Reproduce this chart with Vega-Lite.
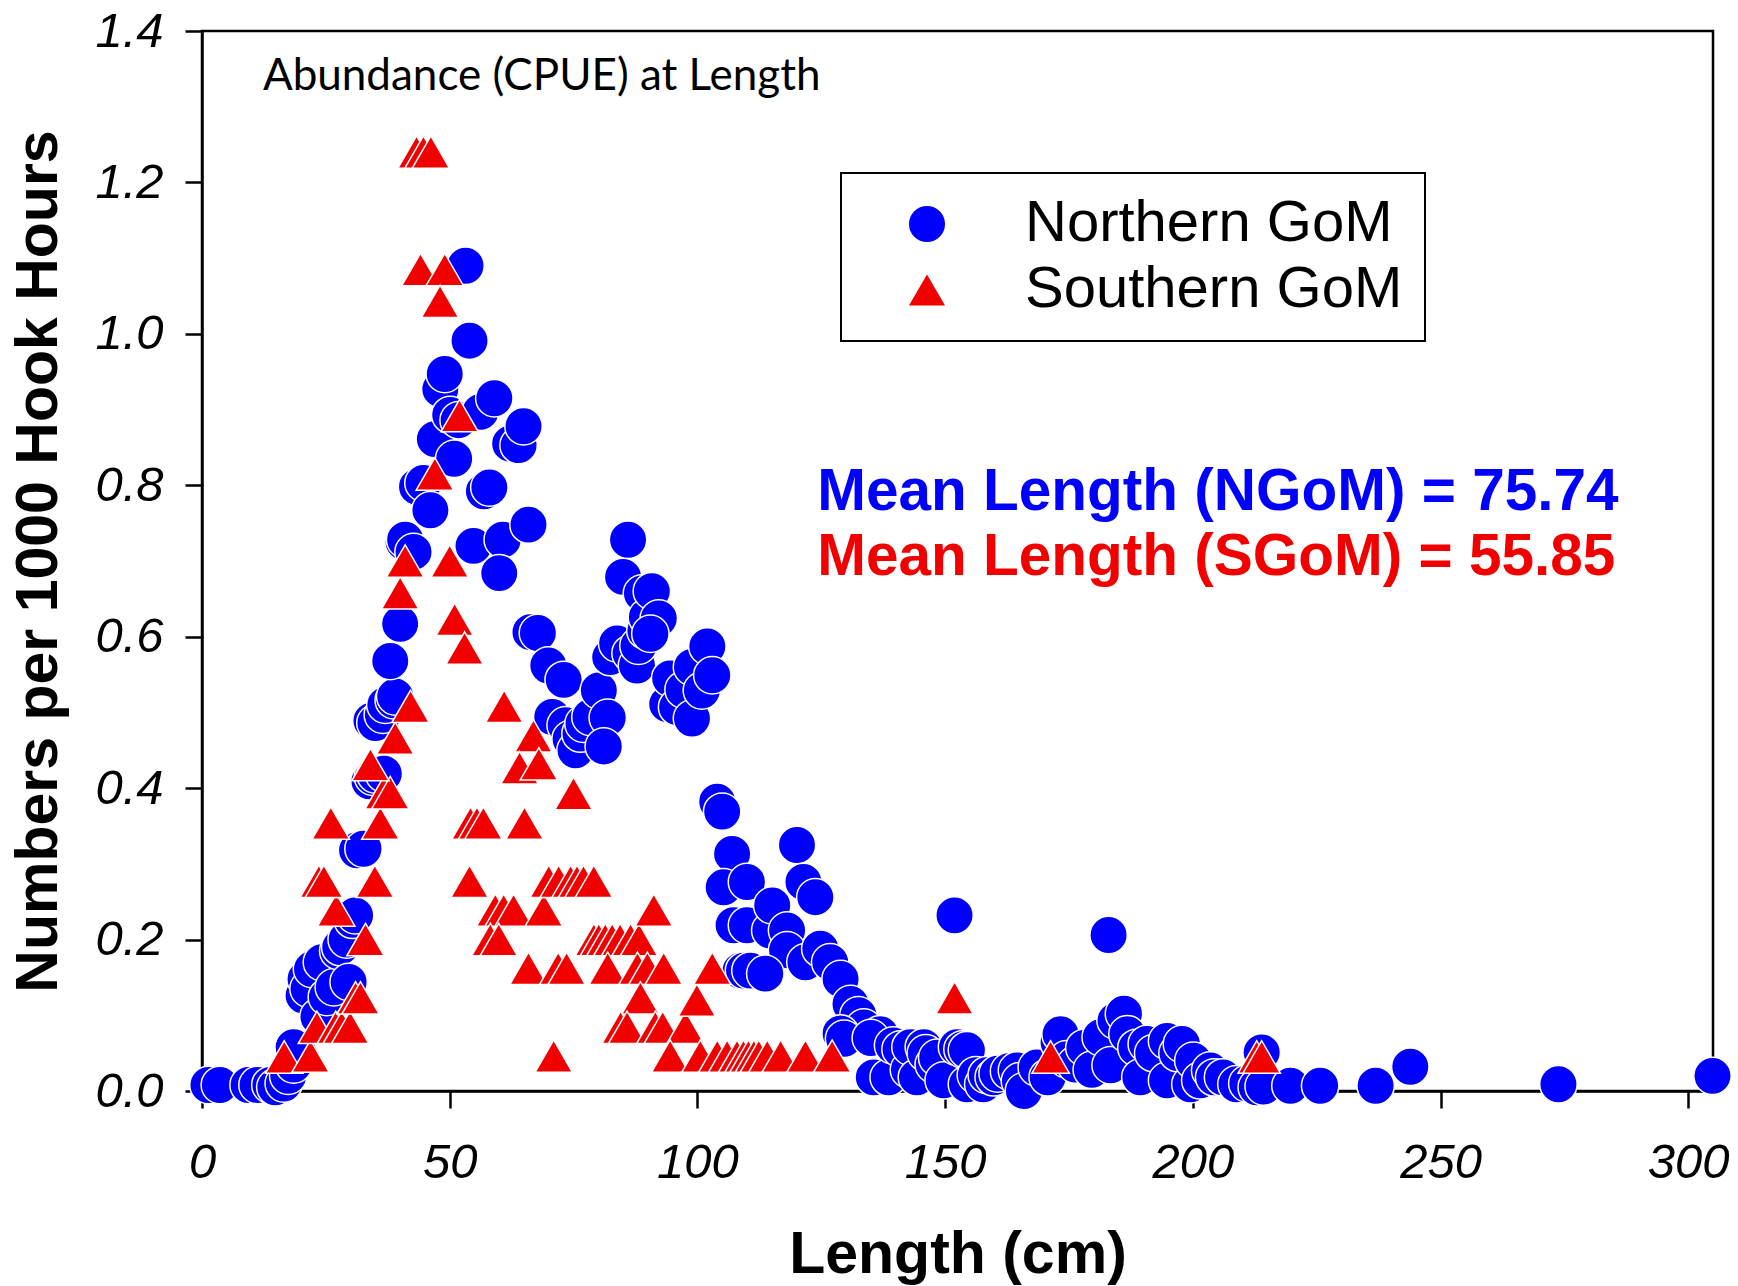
{
  "$schema": "https://vega.github.io/schema/vega-lite/v6.json",
  "width": 1511,
  "height": 1060,
  "autosize": "none",
  "padding": {"left": 202, "top": 31, "right": 25, "bottom": 195},
  "background": "white",
  "config": {
    "view": {"stroke": "black", "strokeWidth": 2.5},
    "axis": {
      "grid": false,
      "domainColor": "black",
      "domainWidth": 2.5,
      "tickColor": "black",
      "tickWidth": 2.5,
      "tickSize": 17,
      "labelFont": "Liberation Sans",
      "labelFontStyle": "italic",
      "labelFontSize": 49,
      "labelColor": "black",
      "labelOverlap": false,
      "labelFlush": false,
      "titleFont": "Liberation Sans",
      "titleFontWeight": "bold",
      "titleFontSize": 59,
      "titleColor": "black"
    },
    "legend": {"strokeWidth": 2}
  },
  "datasets": {
    "pts": [
      {"region": "Northern GoM", "len": 1.3, "cpue": 0.008},
      {"region": "Northern GoM", "len": 3.6, "cpue": 0.008},
      {"region": "Northern GoM", "len": 9.4, "cpue": 0.008},
      {"region": "Northern GoM", "len": 11.2, "cpue": 0.008},
      {"region": "Northern GoM", "len": 13.8, "cpue": 0.008},
      {"region": "Northern GoM", "len": 14.8, "cpue": 0.005},
      {"region": "Northern GoM", "len": 16.5, "cpue": 0.01},
      {"region": "Northern GoM", "len": 17.4, "cpue": 0.02},
      {"region": "Northern GoM", "len": 18.5, "cpue": 0.035},
      {"region": "Northern GoM", "len": 19.5, "cpue": 0.05},
      {"region": "Northern GoM", "len": 18.5, "cpue": 0.058},
      {"region": "Northern GoM", "len": 20.5, "cpue": 0.126},
      {"region": "Northern GoM", "len": 20.9, "cpue": 0.148},
      {"region": "Northern GoM", "len": 21.5, "cpue": 0.135},
      {"region": "Northern GoM", "len": 22.2, "cpue": 0.161},
      {"region": "Northern GoM", "len": 23.5, "cpue": 0.098},
      {"region": "Northern GoM", "len": 24.2, "cpue": 0.17},
      {"region": "Northern GoM", "len": 25.2, "cpue": 0.124},
      {"region": "Northern GoM", "len": 26.6, "cpue": 0.137},
      {"region": "Northern GoM", "len": 27.5, "cpue": 0.185},
      {"region": "Northern GoM", "len": 27.9, "cpue": 0.19},
      {"region": "Northern GoM", "len": 29.2, "cpue": 0.2},
      {"region": "Northern GoM", "len": 29.6, "cpue": 0.144},
      {"region": "Northern GoM", "len": 30.4, "cpue": 0.226},
      {"region": "Northern GoM", "len": 30.9, "cpue": 0.232},
      {"region": "Northern GoM", "len": 31.3, "cpue": 0.318},
      {"region": "Northern GoM", "len": 32.6, "cpue": 0.32},
      {"region": "Northern GoM", "len": 33.8, "cpue": 0.409},
      {"region": "Northern GoM", "len": 34.5, "cpue": 0.415},
      {"region": "Northern GoM", "len": 35.0, "cpue": 0.418},
      {"region": "Northern GoM", "len": 36.7, "cpue": 0.419},
      {"region": "Northern GoM", "len": 34.2, "cpue": 0.489},
      {"region": "Northern GoM", "len": 35.0, "cpue": 0.486},
      {"region": "Northern GoM", "len": 36.5, "cpue": 0.497},
      {"region": "Northern GoM", "len": 37.0, "cpue": 0.51},
      {"region": "Northern GoM", "len": 38.7, "cpue": 0.516},
      {"region": "Northern GoM", "len": 39.0, "cpue": 0.521},
      {"region": "Northern GoM", "len": 38.0, "cpue": 0.568},
      {"region": "Northern GoM", "len": 40.0, "cpue": 0.617},
      {"region": "Northern GoM", "len": 40.7, "cpue": 0.725},
      {"region": "Northern GoM", "len": 41.0, "cpue": 0.728},
      {"region": "Northern GoM", "len": 42.7, "cpue": 0.712},
      {"region": "Northern GoM", "len": 43.4, "cpue": 0.798},
      {"region": "Northern GoM", "len": 44.7, "cpue": 0.803},
      {"region": "Northern GoM", "len": 46.1, "cpue": 0.767},
      {"region": "Northern GoM", "len": 47.0, "cpue": 0.861},
      {"region": "Northern GoM", "len": 48.1, "cpue": 0.927},
      {"region": "Northern GoM", "len": 49.0, "cpue": 0.947},
      {"region": "Northern GoM", "len": 50.1, "cpue": 0.893},
      {"region": "Northern GoM", "len": 51.8, "cpue": 0.886},
      {"region": "Northern GoM", "len": 50.9, "cpue": 0.835},
      {"region": "Northern GoM", "len": 53.2, "cpue": 1.09},
      {"region": "Northern GoM", "len": 54.0, "cpue": 0.991},
      {"region": "Northern GoM", "len": 54.8, "cpue": 0.72},
      {"region": "Northern GoM", "len": 56.2, "cpue": 0.897},
      {"region": "Northern GoM", "len": 56.9, "cpue": 0.792},
      {"region": "Northern GoM", "len": 58.0, "cpue": 0.797},
      {"region": "Northern GoM", "len": 59.0, "cpue": 0.915},
      {"region": "Northern GoM", "len": 60.7, "cpue": 0.728},
      {"region": "Northern GoM", "len": 60.0, "cpue": 0.684},
      {"region": "Northern GoM", "len": 62.2, "cpue": 0.855},
      {"region": "Northern GoM", "len": 63.9, "cpue": 0.853},
      {"region": "Northern GoM", "len": 64.9, "cpue": 0.878},
      {"region": "Northern GoM", "len": 65.9, "cpue": 0.748},
      {"region": "Northern GoM", "len": 66.3, "cpue": 0.606},
      {"region": "Northern GoM", "len": 67.8, "cpue": 0.605},
      {"region": "Northern GoM", "len": 69.9, "cpue": 0.562},
      {"region": "Northern GoM", "len": 73.0, "cpue": 0.543},
      {"region": "Northern GoM", "len": 70.7, "cpue": 0.494},
      {"region": "Northern GoM", "len": 73.4, "cpue": 0.483},
      {"region": "Northern GoM", "len": 74.4, "cpue": 0.465},
      {"region": "Northern GoM", "len": 75.4, "cpue": 0.45},
      {"region": "Northern GoM", "len": 76.4, "cpue": 0.472},
      {"region": "Northern GoM", "len": 77.0, "cpue": 0.485},
      {"region": "Northern GoM", "len": 78.4, "cpue": 0.494},
      {"region": "Northern GoM", "len": 80.1, "cpue": 0.529},
      {"region": "Northern GoM", "len": 81.9, "cpue": 0.493},
      {"region": "Northern GoM", "len": 81.1, "cpue": 0.455},
      {"region": "Northern GoM", "len": 82.4, "cpue": 0.573},
      {"region": "Northern GoM", "len": 83.8, "cpue": 0.591},
      {"region": "Northern GoM", "len": 86.5, "cpue": 0.578},
      {"region": "Northern GoM", "len": 87.8, "cpue": 0.562},
      {"region": "Northern GoM", "len": 88.1, "cpue": 0.588},
      {"region": "Northern GoM", "len": 85.0, "cpue": 0.679},
      {"region": "Northern GoM", "len": 86.0, "cpue": 0.728},
      {"region": "Northern GoM", "len": 88.8, "cpue": 0.657},
      {"region": "Northern GoM", "len": 89.5, "cpue": 0.608},
      {"region": "Northern GoM", "len": 89.8, "cpue": 0.626},
      {"region": "Northern GoM", "len": 90.8, "cpue": 0.66},
      {"region": "Northern GoM", "len": 92.2, "cpue": 0.624},
      {"region": "Northern GoM", "len": 90.5, "cpue": 0.604},
      {"region": "Northern GoM", "len": 93.9, "cpue": 0.511},
      {"region": "Northern GoM", "len": 94.5, "cpue": 0.545},
      {"region": "Northern GoM", "len": 95.9, "cpue": 0.507},
      {"region": "Northern GoM", "len": 97.2, "cpue": 0.53},
      {"region": "Northern GoM", "len": 98.9, "cpue": 0.56},
      {"region": "Northern GoM", "len": 98.9, "cpue": 0.492},
      {"region": "Northern GoM", "len": 100.9, "cpue": 0.529},
      {"region": "Northern GoM", "len": 102.0, "cpue": 0.587},
      {"region": "Northern GoM", "len": 103.0, "cpue": 0.549},
      {"region": "Northern GoM", "len": 104.0, "cpue": 0.382},
      {"region": "Northern GoM", "len": 105.0, "cpue": 0.369},
      {"region": "Northern GoM", "len": 107.0, "cpue": 0.313},
      {"region": "Northern GoM", "len": 105.3, "cpue": 0.269},
      {"region": "Northern GoM", "len": 110.0, "cpue": 0.276},
      {"region": "Northern GoM", "len": 107.3, "cpue": 0.219},
      {"region": "Northern GoM", "len": 110.0, "cpue": 0.219},
      {"region": "Northern GoM", "len": 114.7, "cpue": 0.212},
      {"region": "Northern GoM", "len": 115.1, "cpue": 0.245},
      {"region": "Northern GoM", "len": 118.1, "cpue": 0.212},
      {"region": "Northern GoM", "len": 118.1, "cpue": 0.186},
      {"region": "Northern GoM", "len": 120.1, "cpue": 0.325},
      {"region": "Northern GoM", "len": 121.4, "cpue": 0.276},
      {"region": "Northern GoM", "len": 123.8, "cpue": 0.256},
      {"region": "Northern GoM", "len": 108.7, "cpue": 0.159},
      {"region": "Northern GoM", "len": 109.4, "cpue": 0.159},
      {"region": "Northern GoM", "len": 110.7, "cpue": 0.159},
      {"region": "Northern GoM", "len": 113.7, "cpue": 0.155},
      {"region": "Northern GoM", "len": 121.8, "cpue": 0.17},
      {"region": "Northern GoM", "len": 124.8, "cpue": 0.188},
      {"region": "Northern GoM", "len": 126.8, "cpue": 0.17},
      {"region": "Northern GoM", "len": 128.9, "cpue": 0.148},
      {"region": "Northern GoM", "len": 130.9, "cpue": 0.115},
      {"region": "Northern GoM", "len": 132.5, "cpue": 0.1},
      {"region": "Northern GoM", "len": 133.6, "cpue": 0.084},
      {"region": "Northern GoM", "len": 136.9, "cpue": 0.075},
      {"region": "Northern GoM", "len": 128.9, "cpue": 0.076},
      {"region": "Northern GoM", "len": 129.6, "cpue": 0.069},
      {"region": "Northern GoM", "len": 135.0, "cpue": 0.07},
      {"region": "Northern GoM", "len": 135.6, "cpue": 0.018},
      {"region": "Northern GoM", "len": 138.6, "cpue": 0.018},
      {"region": "Northern GoM", "len": 139.5, "cpue": 0.06},
      {"region": "Northern GoM", "len": 141.0, "cpue": 0.055},
      {"region": "Northern GoM", "len": 142.7, "cpue": 0.028},
      {"region": "Northern GoM", "len": 143.0, "cpue": 0.058},
      {"region": "Northern GoM", "len": 144.3, "cpue": 0.018},
      {"region": "Northern GoM", "len": 145.7, "cpue": 0.058},
      {"region": "Northern GoM", "len": 146.1, "cpue": 0.05},
      {"region": "Northern GoM", "len": 147.7, "cpue": 0.035},
      {"region": "Northern GoM", "len": 148.4, "cpue": 0.044},
      {"region": "Northern GoM", "len": 149.7, "cpue": 0.014},
      {"region": "Northern GoM", "len": 151.9, "cpue": 0.232},
      {"region": "Northern GoM", "len": 152.4, "cpue": 0.058},
      {"region": "Northern GoM", "len": 153.5, "cpue": 0.055},
      {"region": "Northern GoM", "len": 154.4, "cpue": 0.054},
      {"region": "Northern GoM", "len": 154.4, "cpue": 0.009},
      {"region": "Northern GoM", "len": 156.2, "cpue": 0.021},
      {"region": "Northern GoM", "len": 157.7, "cpue": 0.009},
      {"region": "Northern GoM", "len": 158.4, "cpue": 0.021},
      {"region": "Northern GoM", "len": 159.8, "cpue": 0.018},
      {"region": "Northern GoM", "len": 160.6, "cpue": 0.023},
      {"region": "Northern GoM", "len": 162.9, "cpue": 0.026},
      {"region": "Northern GoM", "len": 164.5, "cpue": 0.027},
      {"region": "Northern GoM", "len": 165.1, "cpue": 0.013},
      {"region": "Northern GoM", "len": 165.9, "cpue": 0.0},
      {"region": "Northern GoM", "len": 168.5, "cpue": 0.031},
      {"region": "Northern GoM", "len": 170.7, "cpue": 0.018},
      {"region": "Northern GoM", "len": 172.9, "cpue": 0.064},
      {"region": "Northern GoM", "len": 173.3, "cpue": 0.075},
      {"region": "Northern GoM", "len": 174.5, "cpue": 0.042},
      {"region": "Northern GoM", "len": 176.3, "cpue": 0.035},
      {"region": "Northern GoM", "len": 178.1, "cpue": 0.057},
      {"region": "Northern GoM", "len": 179.6, "cpue": 0.028},
      {"region": "Northern GoM", "len": 181.4, "cpue": 0.071},
      {"region": "Northern GoM", "len": 183.0, "cpue": 0.206},
      {"region": "Northern GoM", "len": 183.4, "cpue": 0.034},
      {"region": "Northern GoM", "len": 184.4, "cpue": 0.093},
      {"region": "Northern GoM", "len": 186.1, "cpue": 0.102},
      {"region": "Northern GoM", "len": 186.8, "cpue": 0.075},
      {"region": "Northern GoM", "len": 188.6, "cpue": 0.057},
      {"region": "Northern GoM", "len": 189.4, "cpue": 0.018},
      {"region": "Northern GoM", "len": 190.7, "cpue": 0.062},
      {"region": "Northern GoM", "len": 192.0, "cpue": 0.05},
      {"region": "Northern GoM", "len": 194.8, "cpue": 0.066},
      {"region": "Northern GoM", "len": 194.8, "cpue": 0.014},
      {"region": "Northern GoM", "len": 196.9, "cpue": 0.05},
      {"region": "Northern GoM", "len": 197.8, "cpue": 0.062},
      {"region": "Northern GoM", "len": 199.5, "cpue": 0.009},
      {"region": "Northern GoM", "len": 200.1, "cpue": 0.04},
      {"region": "Northern GoM", "len": 201.5, "cpue": 0.014},
      {"region": "Northern GoM", "len": 203.5, "cpue": 0.027},
      {"region": "Northern GoM", "len": 204.3, "cpue": 0.018},
      {"region": "Northern GoM", "len": 206.1, "cpue": 0.018},
      {"region": "Northern GoM", "len": 208.8, "cpue": 0.009},
      {"region": "Northern GoM", "len": 211.0, "cpue": 0.01},
      {"region": "Northern GoM", "len": 212.9, "cpue": 0.005},
      {"region": "Northern GoM", "len": 213.9, "cpue": 0.051},
      {"region": "Northern GoM", "len": 214.3, "cpue": 0.006},
      {"region": "Northern GoM", "len": 219.7, "cpue": 0.007},
      {"region": "Northern GoM", "len": 225.7, "cpue": 0.007},
      {"region": "Northern GoM", "len": 236.9, "cpue": 0.007},
      {"region": "Northern GoM", "len": 243.9, "cpue": 0.032},
      {"region": "Northern GoM", "len": 273.8, "cpue": 0.009},
      {"region": "Northern GoM", "len": 304.9, "cpue": 0.02},
      {"region": "Southern GoM", "len": 16.6, "cpue": 0.045},
      {"region": "Southern GoM", "len": 21.9, "cpue": 0.046},
      {"region": "Southern GoM", "len": 23.2, "cpue": 0.084},
      {"region": "Southern GoM", "len": 27.0, "cpue": 0.084},
      {"region": "Southern GoM", "len": 28.2, "cpue": 0.084},
      {"region": "Southern GoM", "len": 29.9, "cpue": 0.084},
      {"region": "Southern GoM", "len": 31.0, "cpue": 0.123},
      {"region": "Southern GoM", "len": 32.0, "cpue": 0.123},
      {"region": "Southern GoM", "len": 33.0, "cpue": 0.2},
      {"region": "Southern GoM", "len": 27.1, "cpue": 0.239},
      {"region": "Southern GoM", "len": 23.6, "cpue": 0.277},
      {"region": "Southern GoM", "len": 24.6, "cpue": 0.277},
      {"region": "Southern GoM", "len": 34.9, "cpue": 0.277},
      {"region": "Southern GoM", "len": 26.0, "cpue": 0.354},
      {"region": "Southern GoM", "len": 36.0, "cpue": 0.354},
      {"region": "Southern GoM", "len": 36.7, "cpue": 0.394},
      {"region": "Southern GoM", "len": 38.0, "cpue": 0.394},
      {"region": "Southern GoM", "len": 34.0, "cpue": 0.431},
      {"region": "Southern GoM", "len": 39.0, "cpue": 0.466},
      {"region": "Southern GoM", "len": 42.1, "cpue": 0.508},
      {"region": "Southern GoM", "len": 40.0, "cpue": 0.658},
      {"region": "Southern GoM", "len": 41.0, "cpue": 0.7},
      {"region": "Southern GoM", "len": 50.0, "cpue": 0.7},
      {"region": "Southern GoM", "len": 51.0, "cpue": 0.623},
      {"region": "Southern GoM", "len": 53.0, "cpue": 0.585},
      {"region": "Southern GoM", "len": 47.0, "cpue": 0.815},
      {"region": "Southern GoM", "len": 52.0, "cpue": 0.892},
      {"region": "Southern GoM", "len": 44.1, "cpue": 1.085},
      {"region": "Southern GoM", "len": 49.0, "cpue": 1.085},
      {"region": "Southern GoM", "len": 48.05, "cpue": 1.043},
      {"region": "Southern GoM", "len": 43.3, "cpue": 1.24},
      {"region": "Southern GoM", "len": 44.7, "cpue": 1.24},
      {"region": "Southern GoM", "len": 46.2, "cpue": 1.24},
      {"region": "Southern GoM", "len": 54.2, "cpue": 0.354},
      {"region": "Southern GoM", "len": 55.5, "cpue": 0.354},
      {"region": "Southern GoM", "len": 56.8, "cpue": 0.354},
      {"region": "Southern GoM", "len": 65.1, "cpue": 0.354},
      {"region": "Southern GoM", "len": 61.0, "cpue": 0.508},
      {"region": "Southern GoM", "len": 66.9, "cpue": 0.469},
      {"region": "Southern GoM", "len": 64.1, "cpue": 0.427},
      {"region": "Southern GoM", "len": 68.0, "cpue": 0.432},
      {"region": "Southern GoM", "len": 75.0, "cpue": 0.393},
      {"region": "Southern GoM", "len": 54.0, "cpue": 0.277},
      {"region": "Southern GoM", "len": 59.2, "cpue": 0.239},
      {"region": "Southern GoM", "len": 60.9, "cpue": 0.239},
      {"region": "Southern GoM", "len": 62.9, "cpue": 0.239},
      {"region": "Southern GoM", "len": 69.0, "cpue": 0.239},
      {"region": "Southern GoM", "len": 58.2, "cpue": 0.2},
      {"region": "Southern GoM", "len": 59.9, "cpue": 0.2},
      {"region": "Southern GoM", "len": 65.9, "cpue": 0.162},
      {"region": "Southern GoM", "len": 71.9, "cpue": 0.162},
      {"region": "Southern GoM", "len": 73.6, "cpue": 0.162},
      {"region": "Southern GoM", "len": 70.0, "cpue": 0.277},
      {"region": "Southern GoM", "len": 72.0, "cpue": 0.277},
      {"region": "Southern GoM", "len": 74.4, "cpue": 0.277},
      {"region": "Southern GoM", "len": 75.7, "cpue": 0.277},
      {"region": "Southern GoM", "len": 77.0, "cpue": 0.277},
      {"region": "Southern GoM", "len": 79.1, "cpue": 0.277},
      {"region": "Southern GoM", "len": 71.0, "cpue": 0.046},
      {"region": "Southern GoM", "len": 79.1, "cpue": 0.2},
      {"region": "Southern GoM", "len": 80.1, "cpue": 0.2},
      {"region": "Southern GoM", "len": 81.4, "cpue": 0.2},
      {"region": "Southern GoM", "len": 82.8, "cpue": 0.2},
      {"region": "Southern GoM", "len": 84.4, "cpue": 0.2},
      {"region": "Southern GoM", "len": 86.5, "cpue": 0.2},
      {"region": "Southern GoM", "len": 88.2, "cpue": 0.2},
      {"region": "Southern GoM", "len": 81.9, "cpue": 0.162},
      {"region": "Southern GoM", "len": 87.9, "cpue": 0.162},
      {"region": "Southern GoM", "len": 89.9, "cpue": 0.162},
      {"region": "Southern GoM", "len": 93.2, "cpue": 0.162},
      {"region": "Southern GoM", "len": 88.5, "cpue": 0.123},
      {"region": "Southern GoM", "len": 91.2, "cpue": 0.239},
      {"region": "Southern GoM", "len": 84.5, "cpue": 0.084},
      {"region": "Southern GoM", "len": 85.8, "cpue": 0.084},
      {"region": "Southern GoM", "len": 91.5, "cpue": 0.084},
      {"region": "Southern GoM", "len": 93.0, "cpue": 0.084},
      {"region": "Southern GoM", "len": 97.6, "cpue": 0.084},
      {"region": "Southern GoM", "len": 99.9, "cpue": 0.12},
      {"region": "Southern GoM", "len": 103.0, "cpue": 0.162},
      {"region": "Southern GoM", "len": 94.5, "cpue": 0.046},
      {"region": "Southern GoM", "len": 100.6, "cpue": 0.046},
      {"region": "Southern GoM", "len": 104.0, "cpue": 0.046},
      {"region": "Southern GoM", "len": 106.0, "cpue": 0.046},
      {"region": "Southern GoM", "len": 108.0, "cpue": 0.046},
      {"region": "Southern GoM", "len": 109.3, "cpue": 0.046},
      {"region": "Southern GoM", "len": 110.3, "cpue": 0.046},
      {"region": "Southern GoM", "len": 111.4, "cpue": 0.046},
      {"region": "Southern GoM", "len": 112.4, "cpue": 0.046},
      {"region": "Southern GoM", "len": 114.1, "cpue": 0.046},
      {"region": "Southern GoM", "len": 116.8, "cpue": 0.046},
      {"region": "Southern GoM", "len": 121.8, "cpue": 0.046},
      {"region": "Southern GoM", "len": 127.2, "cpue": 0.046},
      {"region": "Southern GoM", "len": 151.9, "cpue": 0.123},
      {"region": "Southern GoM", "len": 171.3, "cpue": 0.045},
      {"region": "Southern GoM", "len": 212.9, "cpue": 0.045},
      {"region": "Southern GoM", "len": 213.9, "cpue": 0.045}
    ],
    "notes": [
      {"label": "Abundance (CPUE) at Length", "len": 12.3, "cpue": 1.339, "kind": "sub"},
      {"label": "Mean Length (NGoM) = 75.74", "len": 124.2, "cpue": 0.791, "kind": "n"},
      {"label": "Mean Length (SGoM) = 55.85", "len": 124.2, "cpue": 0.705, "kind": "s"}
    ]
  },
  "layer": [
    {
      "data": {"name": "pts"},
      "mark": {"type": "point", "filled": true, "opacity": 1, "stroke": "white", "strokeWidth": 1.5, "size": 1400},
      "encoding": {
        "x": {
          "field": "len", "type": "quantitative",
          "scale": {"domain": [0, 305], "nice": false, "zero": false},
          "axis": {"values": [0, 50, 100, 150, 200, 250, 300], "title": "Length (cm)", "labelPadding": 30, "titlePadding": 38}
        },
        "y": {
          "field": "cpue", "type": "quantitative",
          "scale": {"domain": [0, 1.4], "nice": false},
          "axis": {"values": [0, 0.2, 0.4, 0.6, 0.8, 1.0, 1.2, 1.4], "format": ".1f", "title": "Numbers per 1000 Hook Hours", "labelPadding": 22, "titlePadding": 26}
        },
        "color": {
          "field": "region", "type": "nominal",
          "scale": {"domain": ["Northern GoM", "Southern GoM"], "range": ["#0000ff", "#f20000"]},
          "legend": {
            "title": null,
            "orient": "none",
            "legendX": 639,
            "legendY": 142,
            "strokeColor": "black",
            "fillColor": "white",
            "padding": 22,
            "rowPadding": 8,
            "symbolSize": 1300,
            "symbolStrokeWidth": 0,
            "symbolOffset": 35,
            "labelOffset": 69,
            "labelFont": "Liberation Sans",
            "labelFontSize": 58,
            "labelColor": "black",
            "labelLimit": 600
          }
        },
        "shape": {
          "field": "region", "type": "nominal",
          "scale": {"domain": ["Northern GoM", "Southern GoM"], "range": ["circle", "triangle-up"]}
        }
      }
    },
    {
      "data": {"name": "notes"},
      "transform": [{"filter": "datum.kind === 'sub'"}],
      "mark": {"type": "text", "align": "left", "baseline": "middle", "font": "Lato", "fontSize": 44, "color": "black"},
      "encoding": {
        "x": {"field": "len", "type": "quantitative"},
        "y": {"field": "cpue", "type": "quantitative"},
        "text": {"field": "label"}
      }
    },
    {
      "data": {"name": "notes"},
      "transform": [{"filter": "datum.kind === 'n'"}],
      "mark": {"type": "text", "align": "left", "baseline": "middle", "font": "Liberation Sans", "fontWeight": "bold", "fontSize": 58.5, "color": "#0000ff"},
      "encoding": {
        "x": {"field": "len", "type": "quantitative"},
        "y": {"field": "cpue", "type": "quantitative"},
        "text": {"field": "label"}
      }
    },
    {
      "data": {"name": "notes"},
      "transform": [{"filter": "datum.kind === 's'"}],
      "mark": {"type": "text", "align": "left", "baseline": "middle", "font": "Liberation Sans", "fontWeight": "bold", "fontSize": 58.5, "color": "#f20000"},
      "encoding": {
        "x": {"field": "len", "type": "quantitative"},
        "y": {"field": "cpue", "type": "quantitative"},
        "text": {"field": "label"}
      }
    }
  ]
}
